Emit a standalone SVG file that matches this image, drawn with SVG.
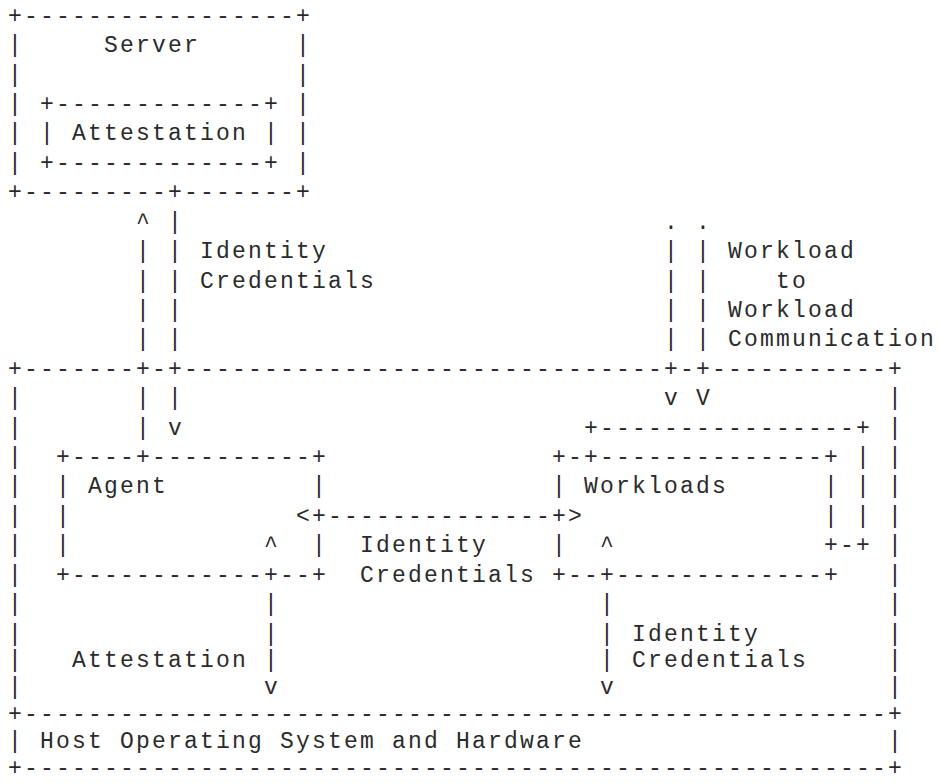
<svg xmlns="http://www.w3.org/2000/svg" width="939" height="783" viewBox="0 0 939 783">
<style>
text { font-family: "Liberation Mono", "DejaVu Sans Mono", monospace; font-size: 23px; letter-spacing: 2.2px; fill: #2b2b2b; white-space: pre; }
</style>
<rect width="939" height="783" fill="#ffffff"/>
<g id="server">
<text x="8" y="22.7">+-----------------+</text>
<text x="8" y="52.1">|     Server      |</text>
<text x="8" y="81.5">|                 |</text>
<text x="8" y="111">|</text><text x="296" y="111">|</text>
<text x="8" y="140.4">|</text><text x="296" y="140.4">|</text>
<text x="8" y="169.8">|</text><text x="296" y="169.8">|</text>
<text x="8" y="199.2">+---------+-------+</text>
</g>
<g id="server-attestation">
<text x="40" y="111">+-------------+</text>
<text x="40" y="140.4">| Attestation |</text>
<text x="40" y="169.8">+-------------+</text>
</g>
<g id="host">
<text x="8" y="375.7">+-------+-+------------------------------+-+-----------+</text>
<text x="8" y="405.2">|</text><text x="888" y="405.2">|</text>
<text x="8" y="434.6">|</text><text x="888" y="434.6">|</text>
<text x="8" y="464">|</text><text x="888" y="464">|</text>
<text x="8" y="493.4">|</text><text x="888" y="493.4">|</text>
<text x="8" y="522.8">|</text><text x="888" y="522.8">|</text>
<text x="8" y="552.3">|</text><text x="888" y="552.3">|</text>
<text x="8" y="581.7">|</text><text x="888" y="581.7">|</text>
<text x="8" y="611.1">|</text><text x="888" y="611.1">|</text>
<text x="8" y="640.5">|</text><text x="888" y="640.5">|</text>
<text x="8" y="667.3">|</text><text x="888" y="667.3">|</text>
<text x="8" y="694.1">|</text><text x="888" y="694.1">|</text>
</g>
<g id="agent">
<text x="56" y="464">+----+----------+</text>
<text x="56" y="493.4">|</text><text x="88" y="493.4">Agent</text><text x="312" y="493.4">|</text>
<text x="56" y="522.8">|</text>
<text x="56" y="552.3">|</text><text x="312" y="552.3">|</text>
<text x="56" y="581.7">+------------+--+</text>
</g>
<g id="workloads-back">
<text x="584" y="434.6">+----------------+</text>
<text x="856" y="464">|</text>
<text x="856" y="493.4">|</text>
<text x="856" y="522.8">|</text>
<text x="824" y="552.3">+-+</text>
</g>
<g id="workloads">
<text x="552" y="464">+-+--------------+</text>
<text x="552" y="493.4">|</text><text x="584" y="493.4">Workloads</text><text x="824" y="493.4">|</text>
<text x="824" y="522.8">|</text>
<text x="552" y="552.3">|</text>
<text x="552" y="581.7">+--+-------------+</text>
</g>
<g id="host-os">
<text x="8" y="720.9">+------------------------------------------------------+</text>
<text x="8" y="747.7">|</text><text x="40" y="747.7">Host Operating System and Hardware</text><text x="888" y="747.7">|</text>
<text x="8" y="774.5">+------------------------------------------------------+</text>
</g>
<g id="connectors">
<text x="136" y="228.6">^</text>
<text x="136" y="258.1">|</text><text x="136" y="287.5">|</text><text x="136" y="316.9">|</text><text x="136" y="346.3">|</text>
<text x="136" y="405.2">|</text><text x="136" y="434.6">|</text>
<text x="168" y="228.6">|</text><text x="168" y="258.1">|</text><text x="168" y="287.5">|</text><text x="168" y="316.9">|</text><text x="168" y="346.3">|</text>
<text x="168" y="405.2">|</text><text x="168" y="434.6">v</text>
<text x="664" y="228.6">.</text>
<text x="664" y="258.1">|</text><text x="664" y="287.5">|</text><text x="664" y="316.9">|</text><text x="664" y="346.3">|</text>
<text x="664" y="405.2">v</text>
<text x="696" y="228.6">.</text>
<text x="696" y="258.1">|</text><text x="696" y="287.5">|</text><text x="696" y="316.9">|</text><text x="696" y="346.3">|</text>
<text x="696" y="405.2">V</text>
<text x="296" y="522.8">&lt;+--------------+&gt;</text>
<text x="264" y="552.3">^</text>
<text x="264" y="611.1">|</text><text x="264" y="640.5">|</text><text x="264" y="667.3">|</text>
<text x="264" y="694.1">v</text>
<text x="600" y="552.3">^</text>
<text x="600" y="611.1">|</text><text x="600" y="640.5">|</text><text x="600" y="667.3">|</text>
<text x="600" y="694.1">v</text>
</g>
<g id="labels">
<text x="200" y="258.1">Identity</text>
<text x="200" y="287.5">Credentials</text>
<text x="728" y="258.1">Workload</text>
<text x="776" y="287.5">to</text>
<text x="728" y="316.9">Workload</text>
<text x="728" y="346.3">Communication</text>
<text x="360" y="552.3">Identity</text>
<text x="360" y="581.7">Credentials</text>
<text x="72" y="667.3">Attestation</text>
<text x="632" y="640.5">Identity</text>
<text x="632" y="667.3">Credentials</text>
</g>
</svg>
